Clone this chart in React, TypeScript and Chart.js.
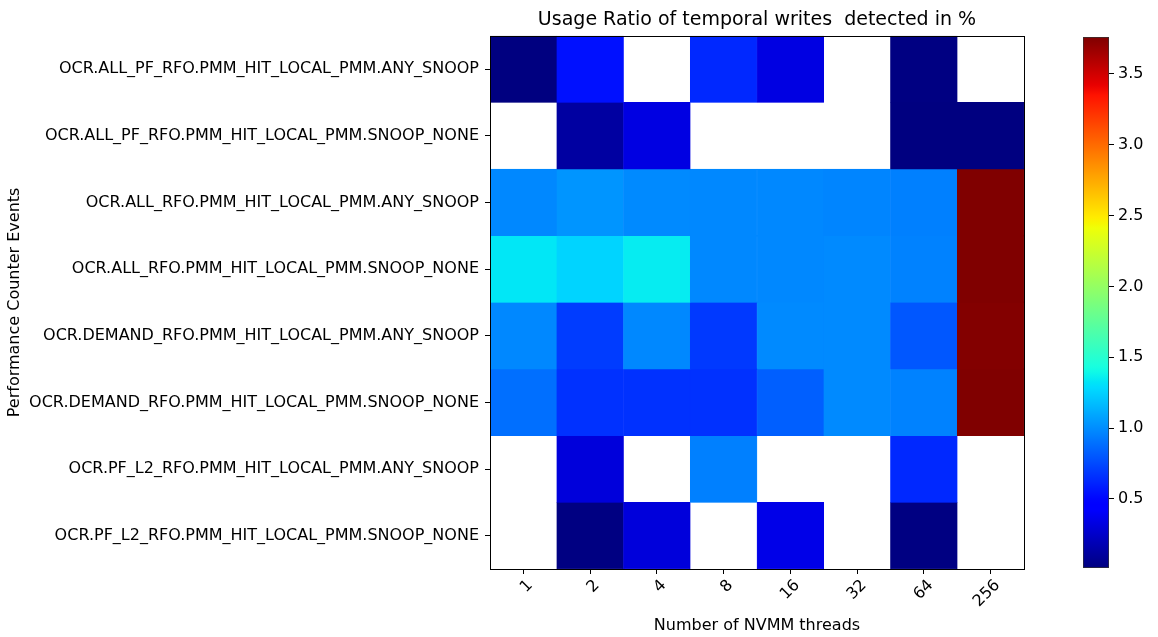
import React, { useEffect, useRef } from "react";
import { Chart, registerables } from "chart.js";

Chart.register(...registerables);

const threads = ["1", "2", "4", "8", "16", "32", "64", "256"];
const events = [
  "OCR.ALL_PF_RFO.PMM_HIT_LOCAL_PMM.ANY_SNOOP",
  "OCR.ALL_PF_RFO.PMM_HIT_LOCAL_PMM.SNOOP_NONE",
  "OCR.ALL_RFO.PMM_HIT_LOCAL_PMM.ANY_SNOOP",
  "OCR.ALL_RFO.PMM_HIT_LOCAL_PMM.SNOOP_NONE",
  "OCR.DEMAND_RFO.PMM_HIT_LOCAL_PMM.ANY_SNOOP",
  "OCR.DEMAND_RFO.PMM_HIT_LOCAL_PMM.SNOOP_NONE",
  "OCR.PF_L2_RFO.PMM_HIT_LOCAL_PMM.ANY_SNOOP",
  "OCR.PF_L2_RFO.PMM_HIT_LOCAL_PMM.SNOOP_NONE",
];

// one array per event (row), one value per thread count (column); null = no data
const allPfRfoAnySnoop = [0.015, 0.54, null, 0.63, 0.33, null, 0.02, null];
const allPfRfoSnoopNone = [null, 0.12, 0.33, null, null, null, 0.015, 0.013];
const allRfoAnySnoop = [0.98, 1.03, 0.99, 0.98, 0.98, 0.97, 0.95, 3.76];
const allRfoSnoopNone = [1.33, 1.26, 1.35, 0.98, 0.98, 0.99, 0.96, 3.76];
const demandRfoAnySnoop = [0.98, 0.7, 0.98, 0.69, 0.99, 0.99, 0.8, 3.75];
const demandRfoSnoopNone = [0.89, 0.66, 0.66, 0.66, 0.83, 0.99, 0.96, 3.76];
const pfL2RfoAnySnoop = [null, 0.31, null, 0.95, null, null, 0.63, null];
const pfL2RfoSnoopNone = [null, 0.02, 0.31, null, 0.35, null, 0.02, null];

const rows: (number | null)[][] = [
  allPfRfoAnySnoop,
  allPfRfoSnoopNone,
  allRfoAnySnoop,
  allRfoSnoopNone,
  demandRfoAnySnoop,
  demandRfoSnoopNone,
  pfL2RfoAnySnoop,
  pfL2RfoSnoopNone,
];

const vMin = 0.013;
const vMax = 3.76;
const colorbarTicks = [0.5, 1.0, 1.5, 2.0, 2.5, 3.0, 3.5];

const FONT = "'DejaVu Sans', sans-serif";

type Seg = [number, number][];
const jetR: Seg = [[0, 0], [0.35, 0], [0.66, 1], [0.89, 1], [1, 0.5]];
const jetG: Seg = [[0, 0], [0.125, 0], [0.375, 1], [0.64, 1], [0.91, 0], [1, 0]];
const jetB: Seg = [[0, 0.5], [0.11, 1], [0.34, 1], [0.65, 0], [1, 0]];

function interp(seg: Seg, t: number) {
  for (let i = 0; i < seg.length - 1; i++) {
    const [x0, y0] = seg[i];
    const [x1, y1] = seg[i + 1];
    if (t >= x0 && t <= x1) {
      return y0 + ((t - x0) / (x1 - x0 || 1)) * (y1 - y0);
    }
  }
  return seg[seg.length - 1][1];
}

function jet(t: number) {
  const c = Math.max(0, Math.min(1, t));
  const r = Math.round(interp(jetR, c) * 255);
  const g = Math.round(interp(jetG, c) * 255);
  const b = Math.round(interp(jetB, c) * 255);
  return `rgb(${r},${g},${b})`;
}

function colorOf(v: number) {
  return jet((v - vMin) / (vMax - vMin));
}

const framePlugin = {
  id: "frame",
  afterLayout(chart: any) {
    // center the title over the plot area, as in the reference
    const tb = chart.titleBlock;
    if (tb) {
      tb.left = chart.chartArea.left;
      tb.right = chart.chartArea.right;
      tb.width = tb.right - tb.left;
    }
  },
  afterDraw(chart: any) {
    const { ctx, chartArea } = chart;
    ctx.save();
    ctx.strokeStyle = "#000";
    ctx.lineWidth = 1;
    ctx.strokeRect(
      Math.round(chartArea.left) + 0.5,
      Math.round(chartArea.top) + 0.5,
      Math.round(chartArea.right - chartArea.left),
      Math.round(chartArea.bottom - chartArea.top)
    );
    ctx.restore();
  },
};

export default function App() {
  const mainRef = useRef<HTMLCanvasElement>(null);
  const cbRef = useRef<HTMLCanvasElement>(null);

  useEffect(() => {
    const datasets = rows.map((row, r) => ({
      label: events[r],
      data: row.map((v) => (v === null ? null : [r, r + 1])),
      backgroundColor: row.map((v) => (v === null ? "rgba(0,0,0,0)" : colorOf(v))),
      borderColor: row.map((v) => (v === null ? "rgba(0,0,0,0)" : colorOf(v))),
      borderWidth: 0.5,
      borderSkipped: false,
      grouped: false,
      barPercentage: 1,
      categoryPercentage: 1,
    }));

    const main = new Chart(mainRef.current!, {
      type: "bar",
      data: { labels: threads, datasets: datasets as any },
      plugins: [framePlugin],
      options: {
        animation: false,
        responsive: false,
        devicePixelRatio: 1,
        layout: { padding: { left: 1, right: 16, top: 0, bottom: 0 } },
        plugins: {
          legend: { display: false },
          tooltip: { enabled: false },
          title: {
            display: true,
            text: "Usage Ratio of temporal writes  detected in %",
            color: "#000",
            font: { family: FONT, size: 19, weight: "normal" },
            padding: { top: 9, bottom: 4 },
          },
        },
        scales: {
          x: {
            type: "category",
            offset: true,
            grid: { drawOnChartArea: false, tickLength: 5, color: "#000", offset: false },
            border: { display: false },
            ticks: {
              color: "#000",
              font: { family: FONT, size: 16 },
              minRotation: 45,
              maxRotation: 45,
              autoSkip: false,
              padding: 2,
              labelOffset: 7,
            },
            title: {
              display: true,
              text: "Number of NVMM threads",
              color: "#000",
              font: { family: FONT, size: 16 },
              padding: { top: 4, bottom: 2 },
            },
            afterFit(scale: any) {
              scale.height = 68;
            },
          },
          y: {
            type: "linear",
            min: 0,
            max: events.length,
            reverse: true,
            grid: { drawOnChartArea: false, tickLength: 5, color: "#000" },
            border: { display: false },
            afterBuildTicks(scale: any) {
              scale.ticks = events.map((_, i) => ({ value: i + 0.5 }));
            },
            ticks: {
              color: "#000",
              font: { family: FONT, size: 16 },
              autoSkip: false,
              padding: 6,
              callback: (_v: any, i: number) => events[i],
            },
            title: {
              display: true,
              text: "Performance Counter Events",
              color: "#000",
              font: { family: FONT, size: 16 },
              padding: { top: 4, bottom: 4 },
            },
            afterFit(scale: any) {
              scale.width = 489;
            },
          },
        },
      } as any,
    });

    const cb = new Chart(cbRef.current!, {
      type: "bar",
      data: {
        labels: ["scale"],
        datasets: [
          {
            data: [[vMin, vMax]] as any,
            backgroundColor: (ctx: any) => {
              const area = ctx.chart.chartArea;
              if (!area) return colorOf(vMin);
              const g = ctx.chart.ctx.createLinearGradient(0, area.bottom, 0, area.top);
              for (let i = 0; i <= 100; i++) g.addColorStop(i / 100, jet(i / 100));
              return g;
            },
            borderColor: "#333",
            borderWidth: 1,
            borderSkipped: false,
            barPercentage: 1,
            categoryPercentage: 1,
          },
        ],
      },
      options: {
        animation: false,
        responsive: false,
        devicePixelRatio: 1,
        layout: { padding: { left: 43, right: 0, top: 37, bottom: 69 } },
        plugins: { legend: { display: false }, tooltip: { enabled: false } },
        scales: {
          x: { display: false },
          y: {
            type: "linear",
            position: "right",
            min: vMin,
            max: vMax,
            grid: { drawOnChartArea: false, tickLength: 5, color: "#000" },
            border: { display: false },
            afterBuildTicks(scale: any) {
              scale.ticks = colorbarTicks.map((v) => ({ value: v }));
            },
            ticks: {
              color: "#000",
              font: { family: FONT, size: 16 },
              padding: 4,
              callback: (v: any) => Number(v).toFixed(1),
            },
            afterFit(scale: any) {
              scale.width = 49;
            },
          },
        },
      } as any,
    });

    return () => {
      main.destroy();
      cb.destroy();
    };
  }, []);

  return (
    <div
      style={{
        position: "absolute",
        left: 0,
        top: 0,
        width: 1158,
        height: 637,
        background: "#fff",
        overflow: "hidden",
      }}
    >
      <canvas
        ref={mainRef}
        width={1040}
        height={637}
        style={{ position: "absolute", left: 0, top: 0, width: 1040, height: 637 }}
      />
      <canvas
        ref={cbRef}
        width={118}
        height={637}
        style={{ position: "absolute", left: 1040, top: 0, width: 118, height: 637 }}
      />
    </div>
  );
}
